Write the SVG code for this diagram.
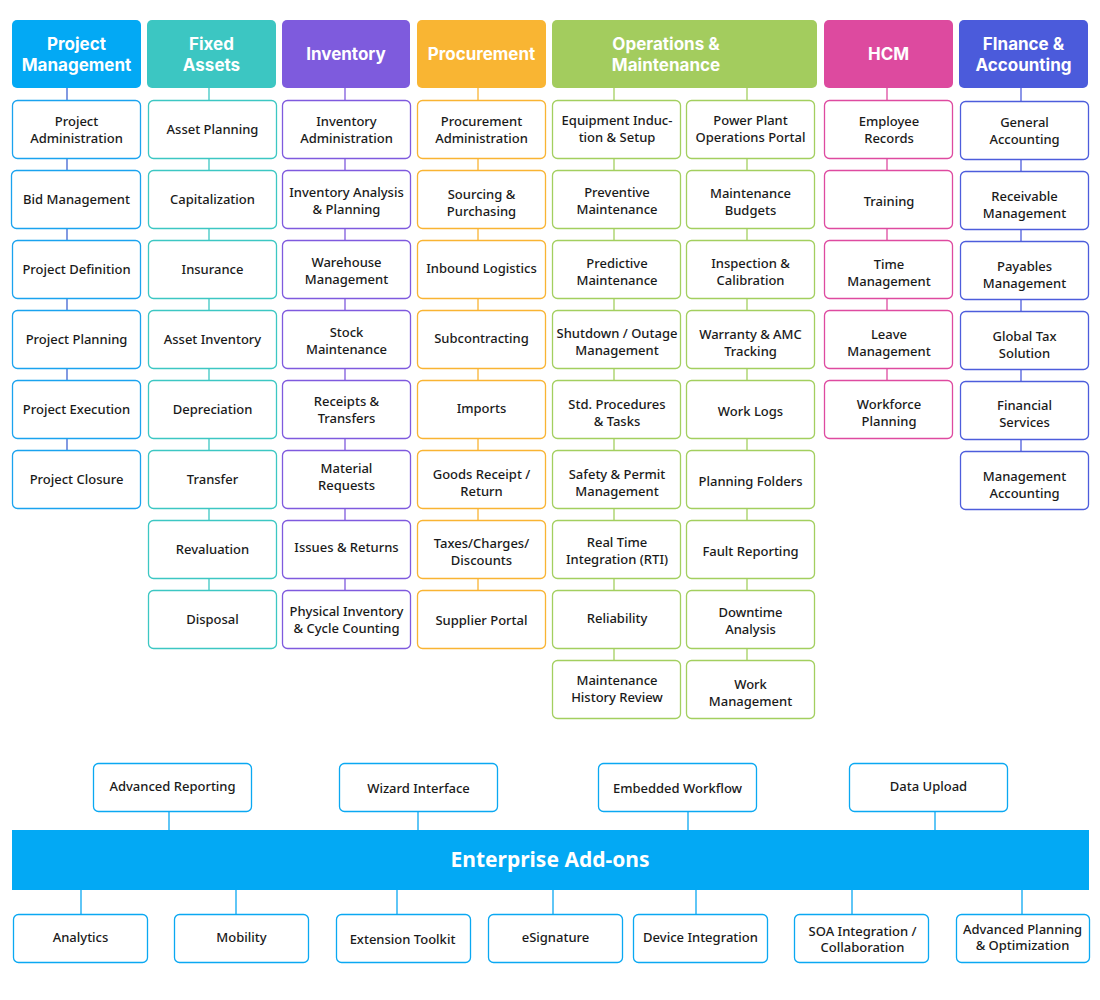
<svg xmlns="http://www.w3.org/2000/svg" width="1100" height="1000" viewBox="0 0 1100 1000">
<style>
text{font-family:"Noto Sans","Open Sans","DejaVu Sans",sans-serif;text-anchor:middle}
.t{font-size:13px;font-weight:500;fill:#1a1a1a}
.h{font-family:Inter,"Roboto","Noto Sans",sans-serif;font-size:17px;font-weight:700;fill:#fff}
.bar{font-size:21px;font-weight:700;fill:#fff}
.b{fill:#fff;stroke-width:1.3}
.c{stroke-width:1.3;fill:none}
.pm{stroke:#1aa3ef}.pmc{stroke:#3f63d2}.pmf{fill:#03A9F4}
.fa{stroke:#3cc7c3}.faf{fill:#3CC6C2}
.iv{stroke:#7f5ade}.ivf{fill:#7E5BDD}
.pr{stroke:#f9b433}.prf{fill:#F9B533}
.om{stroke:#a3cf5f}.omf{fill:#A3CC5E}
.hc{stroke:#de4aa0}.hcf{fill:#DD4A9F}
.fi{stroke:#4d5ddc}.fif{fill:#4B5BDB}
.ea{stroke:#0aa8f2}.eaf{fill:#03A9F4}
</style>
<g id="connectors">
<line class="c pmc" x1="67" y1="88" x2="67" y2="450"/>
<line class="c fa" x1="209" y1="88" x2="209" y2="590"/>
<line class="c iv" x1="345" y1="88" x2="345" y2="590"/>
<line class="c pr" x1="478" y1="88" x2="478" y2="590"/>
<line class="c om" x1="614" y1="88" x2="614" y2="660"/>
<line class="c om" x1="747" y1="88" x2="747" y2="660"/>
<line class="c hc" x1="887" y1="88" x2="887" y2="380"/>
<line class="c fi" x1="1021" y1="88" x2="1021" y2="451"/>
<line class="c ea" x1="169" y1="811" x2="169" y2="830"/>
<line class="c ea" x1="418" y1="811" x2="418" y2="830"/>
<line class="c ea" x1="688" y1="811" x2="688" y2="830"/>
<line class="c ea" x1="935" y1="811" x2="935" y2="830"/>
<line class="c ea" x1="81" y1="890" x2="81" y2="914"/>
<line class="c ea" x1="236" y1="890" x2="236" y2="914"/>
<line class="c ea" x1="397" y1="890" x2="397" y2="914"/>
<line class="c ea" x1="553" y1="890" x2="553" y2="914"/>
<line class="c ea" x1="696" y1="890" x2="696" y2="914"/>
<line class="c ea" x1="852" y1="890" x2="852" y2="914"/>
<line class="c ea" x1="1022" y1="890" x2="1022" y2="914"/>
</g>

<!-- Headers -->
<g id="h-pm"><rect class="pmf" x="12" y="20" width="129" height="68" rx="5"/><text class="h" x="76.5" y="49.5">Project</text><text class="h" x="76.5" y="70.5">Management</text></g>
<g id="h-fa"><rect class="faf" x="147" y="20" width="129" height="68" rx="5"/><text class="h" x="211.5" y="49.5">Fixed</text><text class="h" x="211.5" y="70.5">Assets</text></g>
<g id="h-iv"><rect class="ivf" x="282" y="20" width="128" height="68" rx="5"/><text class="h" x="346" y="60">Inventory</text></g>
<g id="h-pr"><rect class="prf" x="417" y="20" width="129" height="68" rx="5"/><text class="h" x="481.5" y="60">Procurement</text></g>
<g id="h-om"><rect class="omf" x="552" y="20" width="265" height="68" rx="5"/><text class="h" x="666" y="49.5">Operations &amp;</text><text class="h" x="666" y="70.5">Maintenance</text></g>
<g id="h-hc"><rect class="hcf" x="824" y="20" width="129" height="68" rx="5"/><text class="h" x="888.5" y="60">HCM</text></g>
<g id="h-fi"><rect class="fif" x="959" y="20" width="129" height="68" rx="5"/><text class="h" x="1023.5" y="49.5">FInance &amp;</text><text class="h" x="1023.5" y="70.5">Accounting</text></g>

<!-- Project Management -->
<g id="pm1"><rect class="b pm" x="12.5" y="100.5" width="128" height="58" rx="5"/><text class="t" x="76.5" y="125.5">Project</text><text class="t" x="76.5" y="142.5">Administration</text></g>
<g id="pm2"><rect class="b pm" x="11.5" y="170.5" width="129" height="58" rx="5"/><text class="t" x="76.5" y="204">Bid Management</text></g>
<g id="pm3"><rect class="b pm" x="12.5" y="240.5" width="128" height="58" rx="5"/><text class="t" x="76.5" y="274">Project Definition</text></g>
<g id="pm4"><rect class="b pm" x="12.5" y="310.5" width="128" height="58" rx="5"/><text class="t" x="76.5" y="344">Project Planning</text></g>
<g id="pm5"><rect class="b pm" x="12.5" y="380.5" width="128" height="58" rx="5"/><text class="t" x="76.5" y="414">Project Execution</text></g>
<g id="pm6"><rect class="b pm" x="12.5" y="450.5" width="128" height="58" rx="5"/><text class="t" x="76.5" y="484">Project Closure</text></g>

<!-- Fixed Assets -->
<g id="fa1"><rect class="b fa" x="148.5" y="100.5" width="128" height="58" rx="5"/><text class="t" x="212.5" y="134">Asset Planning</text></g>
<g id="fa2"><rect class="b fa" x="148.5" y="170.5" width="128" height="58" rx="5"/><text class="t" x="212.5" y="204">Capitalization</text></g>
<g id="fa3"><rect class="b fa" x="148.5" y="240.5" width="128" height="58" rx="5"/><text class="t" x="212.5" y="274">Insurance</text></g>
<g id="fa4"><rect class="b fa" x="148.5" y="310.5" width="128" height="58" rx="5"/><text class="t" x="212.5" y="344">Asset Inventory</text></g>
<g id="fa5"><rect class="b fa" x="148.5" y="380.5" width="128" height="58" rx="5"/><text class="t" x="212.5" y="414">Depreciation</text></g>
<g id="fa6"><rect class="b fa" x="148.5" y="450.5" width="128" height="58" rx="5"/><text class="t" x="212.5" y="484">Transfer</text></g>
<g id="fa7"><rect class="b fa" x="148.5" y="520.5" width="128" height="58" rx="5"/><text class="t" x="212.5" y="554">Revaluation</text></g>
<g id="fa8"><rect class="b fa" x="148.5" y="590.5" width="128" height="58" rx="5"/><text class="t" x="212.5" y="624">Disposal</text></g>

<!-- Inventory -->
<g id="iv1"><rect class="b iv" x="282.5" y="100.5" width="128" height="58" rx="5"/><text class="t" x="346.5" y="125.5">Inventory</text><text class="t" x="346.5" y="142.5">Administration</text></g>
<g id="iv2"><rect class="b iv" x="282.5" y="170.5" width="128" height="58" rx="5"/><text class="t" x="346.5" y="197">Inventory Analysis</text><text class="t" x="346.5" y="214">&amp; Planning</text></g>
<g id="iv3"><rect class="b iv" x="282.5" y="240.5" width="128" height="58" rx="5"/><text class="t" x="346.5" y="267">Warehouse</text><text class="t" x="346.5" y="284">Management</text></g>
<g id="iv4"><rect class="b iv" x="282.5" y="310.5" width="128" height="58" rx="5"/><text class="t" x="346.5" y="337">Stock</text><text class="t" x="346.5" y="354">Maintenance</text></g>
<g id="iv5"><rect class="b iv" x="282.5" y="380.5" width="128" height="58" rx="5"/><text class="t" x="346.5" y="406">Receipts &amp;</text><text class="t" x="346.5" y="423">Transfers</text></g>
<g id="iv6"><rect class="b iv" x="282.5" y="450.5" width="128" height="58" rx="5"/><text class="t" x="346.5" y="472.5">Material</text><text class="t" x="346.5" y="489.5">Requests</text></g>
<g id="iv7"><rect class="b iv" x="282.5" y="520.5" width="128" height="58" rx="5"/><text class="t" x="346.5" y="552">Issues &amp; Returns</text></g>
<g id="iv8"><rect class="b iv" x="282.5" y="590.5" width="128" height="58" rx="5"/><text class="t" x="346.5" y="615.5">Physical Inventory</text><text class="t" x="346.5" y="632.5">&amp; Cycle Counting</text></g>

<!-- Procurement -->
<g id="pr1"><rect class="b pr" x="417.5" y="100.5" width="128" height="58" rx="5"/><text class="t" x="481.5" y="125.5">Procurement</text><text class="t" x="481.5" y="142.5">Administration</text></g>
<g id="pr2"><rect class="b pr" x="417.5" y="170.5" width="128" height="58" rx="5"/><text class="t" x="481.5" y="199">Sourcing &amp;</text><text class="t" x="481.5" y="216">Purchasing</text></g>
<g id="pr3"><rect class="b pr" x="417.5" y="240.5" width="128" height="58" rx="5"/><text class="t" x="481.5" y="273">Inbound Logistics</text></g>
<g id="pr4"><rect class="b pr" x="417.5" y="310.5" width="128" height="58" rx="5"/><text class="t" x="481.5" y="343">Subcontracting</text></g>
<g id="pr5"><rect class="b pr" x="417.5" y="380.5" width="128" height="58" rx="5"/><text class="t" x="481.5" y="413">Imports</text></g>
<g id="pr6"><rect class="b pr" x="417.5" y="450.5" width="128" height="58" rx="5"/><text class="t" x="481.5" y="479">Goods Receipt /</text><text class="t" x="481.5" y="496">Return</text></g>
<g id="pr7"><rect class="b pr" x="417.5" y="520.5" width="128" height="58" rx="5"/><text class="t" x="481.5" y="548">Taxes/Charges/</text><text class="t" x="481.5" y="565">Discounts</text></g>
<g id="pr8"><rect class="b pr" x="417.5" y="590.5" width="128" height="58" rx="5"/><text class="t" x="481.5" y="625">Supplier Portal</text></g>

<!-- Operations & Maintenance left -->
<g id="oml1"><rect class="b om" x="552.5" y="100.5" width="128" height="58" rx="5"/><text class="t" x="617" y="125">Equipment Induc-</text><text class="t" x="617" y="142">tion &amp; Setup</text></g>
<g id="oml2"><rect class="b om" x="552.5" y="170.5" width="128" height="58" rx="5"/><text class="t" x="617" y="197">Preventive</text><text class="t" x="617" y="214">Maintenance</text></g>
<g id="oml3"><rect class="b om" x="552.5" y="240.5" width="128" height="58" rx="5"/><text class="t" x="617" y="268">Predictive</text><text class="t" x="617" y="285">Maintenance</text></g>
<g id="oml4"><rect class="b om" x="552.5" y="310.5" width="128" height="58" rx="5"/><text class="t" x="617" y="338">Shutdown / Outage</text><text class="t" x="617" y="355">Management</text></g>
<g id="oml5"><rect class="b om" x="552.5" y="380.5" width="128" height="58" rx="5"/><text class="t" x="617" y="409">Std. Procedures</text><text class="t" x="617" y="426">&amp; Tasks</text></g>
<g id="oml6"><rect class="b om" x="552.5" y="450.5" width="128" height="58" rx="5"/><text class="t" x="617" y="479">Safety &amp; Permit</text><text class="t" x="617" y="496">Management</text></g>
<g id="oml7"><rect class="b om" x="552.5" y="520.5" width="128" height="58" rx="5"/><text class="t" x="617" y="547">Real Time</text><text class="t" x="617" y="564">Integration (RTI)</text></g>
<g id="oml8"><rect class="b om" x="552.5" y="590.5" width="128" height="58" rx="5"/><text class="t" x="617" y="623">Reliability</text></g>
<g id="oml9"><rect class="b om" x="552.5" y="660.5" width="128" height="58" rx="5"/><text class="t" x="617" y="685">Maintenance</text><text class="t" x="617" y="702">History Review</text></g>

<!-- Operations & Maintenance right -->
<g id="omr1"><rect class="b om" x="686.5" y="100.5" width="128" height="58" rx="5"/><text class="t" x="750.5" y="125">Power Plant</text><text class="t" x="750.5" y="142">Operations Portal</text></g>
<g id="omr2"><rect class="b om" x="686.5" y="170.5" width="128" height="58" rx="5"/><text class="t" x="750.5" y="198">Maintenance</text><text class="t" x="750.5" y="215">Budgets</text></g>
<g id="omr3"><rect class="b om" x="686.5" y="240.5" width="128" height="58" rx="5"/><text class="t" x="750.5" y="268">Inspection &amp;</text><text class="t" x="750.5" y="285">Calibration</text></g>
<g id="omr4"><rect class="b om" x="686.5" y="310.5" width="128" height="58" rx="5"/><text class="t" x="750.5" y="339">Warranty &amp; AMC</text><text class="t" x="750.5" y="356">Tracking</text></g>
<g id="omr5"><rect class="b om" x="686.5" y="380.5" width="128" height="58" rx="5"/><text class="t" x="750.5" y="416">Work Logs</text></g>
<g id="omr6"><rect class="b om" x="686.5" y="450.5" width="128" height="58" rx="5"/><text class="t" x="750.5" y="486">Planning Folders</text></g>
<g id="omr7"><rect class="b om" x="686.5" y="520.5" width="128" height="58" rx="5"/><text class="t" x="750.5" y="556">Fault Reporting</text></g>
<g id="omr8"><rect class="b om" x="686.5" y="590.5" width="128" height="58" rx="5"/><text class="t" x="750.5" y="617">Downtime</text><text class="t" x="750.5" y="634">Analysis</text></g>
<g id="omr9"><rect class="b om" x="686.5" y="660.5" width="128" height="58" rx="5"/><text class="t" x="750.5" y="689">Work</text><text class="t" x="750.5" y="706">Management</text></g>

<!-- HCM -->
<g id="hc1"><rect class="b hc" x="824.5" y="100.5" width="128" height="58" rx="5"/><text class="t" x="889" y="126">Employee</text><text class="t" x="889" y="143">Records</text></g>
<g id="hc2"><rect class="b hc" x="824.5" y="170.5" width="128" height="58" rx="5"/><text class="t" x="889" y="206">Training</text></g>
<g id="hc3"><rect class="b hc" x="824.5" y="240.5" width="128" height="58" rx="5"/><text class="t" x="889" y="269">Time</text><text class="t" x="889" y="286">Management</text></g>
<g id="hc4"><rect class="b hc" x="824.5" y="310.5" width="128" height="58" rx="5"/><text class="t" x="889" y="339">Leave</text><text class="t" x="889" y="356">Management</text></g>
<g id="hc5"><rect class="b hc" x="824.5" y="380.5" width="128" height="58" rx="5"/><text class="t" x="889" y="409">Workforce</text><text class="t" x="889" y="426">Planning</text></g>

<!-- Finance -->
<g id="fi1"><rect class="b fi" x="960.5" y="101.5" width="128" height="58" rx="5"/><text class="t" x="1024.5" y="127">General</text><text class="t" x="1024.5" y="144">Accounting</text></g>
<g id="fi2"><rect class="b fi" x="960.5" y="171.5" width="128" height="58" rx="5"/><text class="t" x="1024.5" y="201">Receivable</text><text class="t" x="1024.5" y="218">Management</text></g>
<g id="fi3"><rect class="b fi" x="960.5" y="241.5" width="128" height="58" rx="5"/><text class="t" x="1024.5" y="271">Payables</text><text class="t" x="1024.5" y="288">Management</text></g>
<g id="fi4"><rect class="b fi" x="960.5" y="311.5" width="128" height="58" rx="5"/><text class="t" x="1024.5" y="341">Global Tax</text><text class="t" x="1024.5" y="358">Solution</text></g>
<g id="fi5"><rect class="b fi" x="960.5" y="381.5" width="128" height="58" rx="5"/><text class="t" x="1024.5" y="410">Financial</text><text class="t" x="1024.5" y="427">Services</text></g>
<g id="fi6"><rect class="b fi" x="960.5" y="451.5" width="128" height="58" rx="5"/><text class="t" x="1024.5" y="481">Management</text><text class="t" x="1024.5" y="498">Accounting</text></g>

<!-- Enterprise Add-ons -->
<g id="ea-top1"><rect class="b ea" x="93.5" y="763.5" width="158" height="48" rx="5"/><text class="t" x="172.5" y="791">Advanced Reporting</text></g>
<g id="ea-top2"><rect class="b ea" x="339.5" y="763.5" width="158" height="48" rx="5"/><text class="t" x="418.5" y="793">Wizard Interface</text></g>
<g id="ea-top3"><rect class="b ea" x="598.5" y="763.5" width="158" height="48" rx="5"/><text class="t" x="677.5" y="793">Embedded Workflow</text></g>
<g id="ea-top4"><rect class="b ea" x="849.5" y="763.5" width="158" height="48" rx="5"/><text class="t" x="928.5" y="791">Data Upload</text></g>
<g id="ea-bar"><rect class="eaf" x="12" y="830" width="1077" height="60"/><text class="bar" x="550" y="867">Enterprise Add-ons</text></g>
<g id="ea-b1"><rect class="b ea" x="13.5" y="914.5" width="134" height="48" rx="5"/><text class="t" x="80.5" y="942">Analytics</text></g>
<g id="ea-b2"><rect class="b ea" x="174.5" y="914.5" width="134" height="48" rx="5"/><text class="t" x="241.5" y="942">Mobility</text></g>
<g id="ea-b3"><rect class="b ea" x="336.5" y="914.5" width="134" height="48" rx="5"/><text class="t" x="402.5" y="944">Extension Toolkit</text></g>
<g id="ea-b4"><rect class="b ea" x="488.5" y="914.5" width="134" height="48" rx="5"/><text class="t" x="555.5" y="942">eSignature</text></g>
<g id="ea-b5"><rect class="b ea" x="633.5" y="914.5" width="134" height="48" rx="5"/><text class="t" x="700.5" y="942">Device Integration</text></g>
<g id="ea-b6"><rect class="b ea" x="794.5" y="914.5" width="134" height="48" rx="5"/><text class="t" x="862.5" y="936">SOA Integration /</text><text class="t" x="862.5" y="952">Collaboration</text></g>
<g id="ea-b7"><rect class="b ea" x="956.5" y="914.5" width="133" height="48" rx="5"/><text class="t" x="1022.5" y="934">Advanced Planning</text><text class="t" x="1022.5" y="950">&amp; Optimization</text></g>
</svg>
